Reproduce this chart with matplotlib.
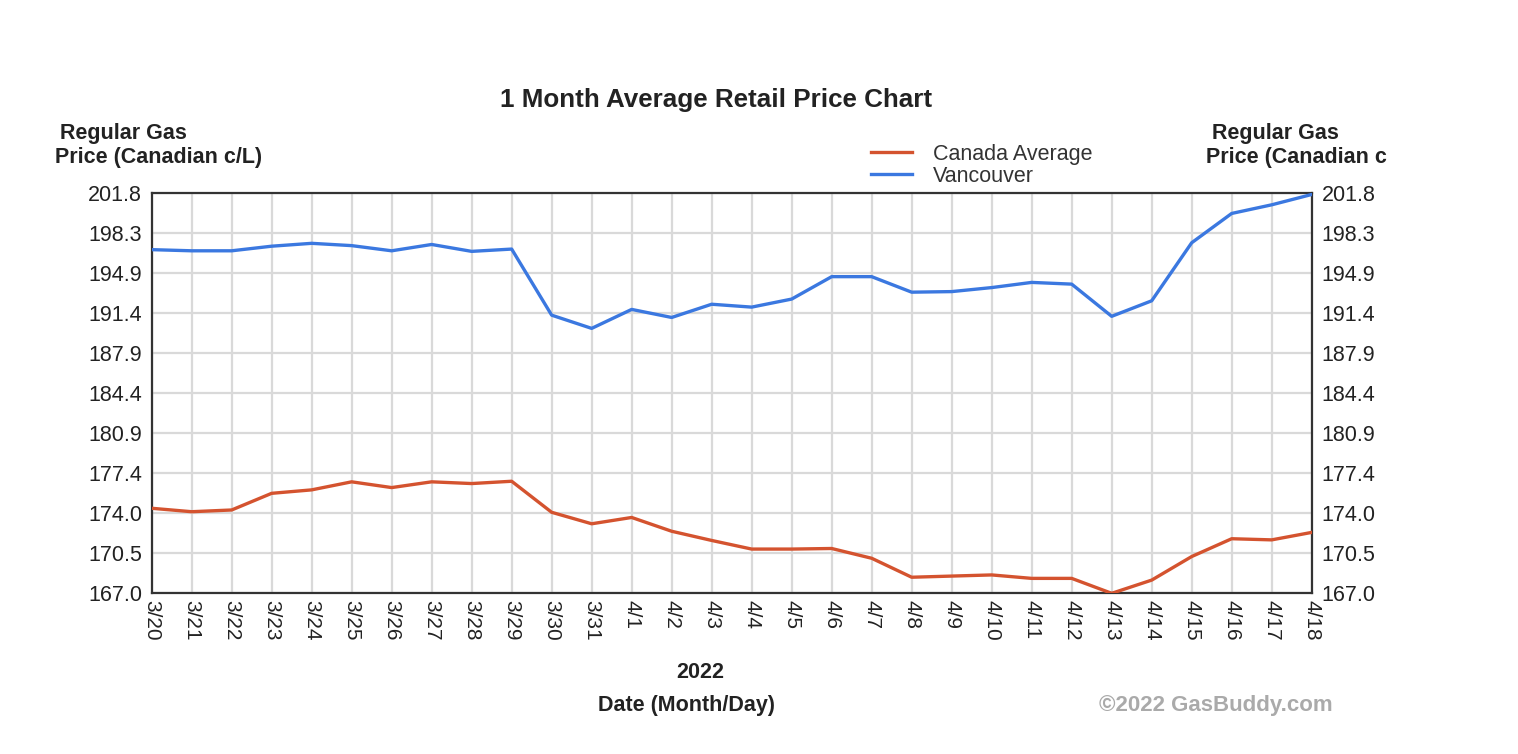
import matplotlib.pyplot as plt
import numpy as np

plt.rcParams['font.family'] = ['Liberation Sans', 'DejaVu Sans']

dates = ['3/20', '3/21', '3/22', '3/23', '3/24', '3/25', '3/26', '3/27', '3/28', '3/29',
         '3/30', '3/31', '4/1', '4/2', '4/3', '4/4', '4/5', '4/6', '4/7', '4/8',
         '4/9', '4/10', '4/11', '4/12', '4/13', '4/14', '4/15', '4/16', '4/17', '4/18']
vancouver = [196.9, 196.8, 196.8, 197.2, 197.45, 197.25, 196.8, 197.35, 196.75, 196.95,
             191.2, 190.05, 191.7, 191.0, 192.15, 191.9, 192.6, 194.55, 194.55, 193.2,
             193.25, 193.6, 194.05, 193.9, 191.1, 192.45, 197.5, 200.05, 200.8, 201.7]
canada = [174.4, 174.1, 174.25, 175.7, 176.0, 176.7, 176.2, 176.7, 176.55, 176.75,
          174.05, 173.05, 173.6, 172.4, 171.6, 170.85, 170.85, 170.9, 170.05, 168.4,
          168.5, 168.6, 168.3, 168.3, 167.0, 168.15, 170.2, 171.75, 171.65, 172.3]
yticks = [167.0, 170.5, 174.0, 177.4, 180.9, 184.4, 187.9, 191.4, 194.9, 198.3, 201.8]

x = np.arange(len(dates))
ymin, ymax = 167.0, 201.8
ygrid = np.linspace(ymin, ymax, 11)
dark = '#222222'

fig = plt.figure(figsize=(15.18, 7.54), dpi=100)
ax = fig.add_axes([0.0999, 0.2131, 0.7642, 0.5305])

ax.plot(x, canada, color='#d4532f', lw=2.4, label='Canada Average', zorder=3)
ax.plot(x, vancouver, color='#3b78e0', lw=2.4, label='Vancouver', zorder=3)

ax.set_xlim(0, len(dates) - 1)
ax.set_ylim(ymin, ymax)
ax.set_xticks(x)
ax.set_xticklabels(dates, rotation=-90, fontsize=15, color=dark)
ax.set_yticks(ygrid)
ax.set_yticklabels(['%.1f' % v for v in yticks], fontsize=15.5, color=dark)
ax.tick_params(length=0, pad=7)
ax.tick_params(axis='x', pad=5)
ax.grid(True, color='#d9d9d9', lw=1.6, zorder=0)
for s in ax.spines.values():
    s.set_color('#333333')
    s.set_linewidth(1.6)

ax2 = ax.twinx()
ax2.set_ylim(ymin, ymax)
ax2.set_yticks(ygrid)
ax2.set_yticklabels(['%.1f' % v for v in yticks], fontsize=15.5, color=dark)
ax2.tick_params(length=0, pad=7)
for s in ax2.spines.values():
    s.set_visible(False)

fig.text(716 / 1518, 1 - 100 / 754, '1 Month Average Retail Price Chart', ha='center', va='center',
         fontsize=18.7, fontweight='bold', color=dark)
fig.text(60 / 1518, 1 - 134 / 754, 'Regular Gas', ha='left', va='center',
         fontsize=15.5, fontweight='bold', color=dark)
fig.text(55 / 1518, 1 - 158 / 754, 'Price (Canadian c/L)', ha='left', va='center',
         fontsize=15.5, fontweight='bold', color=dark)
fig.text(1212 / 1518, 1 - 134 / 754, 'Regular Gas', ha='left', va='center',
         fontsize=15.5, fontweight='bold', color=dark)
fig.text(1206 / 1518, 1 - 158 / 754, 'Price (Canadian c', ha='left', va='center',
         fontsize=15.5, fontweight='bold', color=dark)

fig.legend(loc='upper left', bbox_to_anchor=(860 / 1518, 1 - 133 / 754), frameon=False,
           fontsize=15.5, handlelength=1.9, labelspacing=0.05, handletextpad=1.0,
           borderpad=0, labelcolor='#333333')

fig.text(700 / 1518, 1 - 672 / 754, '2022', ha='center', va='center',
         fontsize=15.5, fontweight='bold', color=dark)
fig.text(686 / 1518, 1 - 705 / 754, 'Date (Month/Day)', ha='center', va='center',
         fontsize=15.5, fontweight='bold', color=dark)
fig.text(1216 / 1518, 1 - 705 / 754, '\u00a92022 GasBuddy.com', ha='center', va='center',
         fontsize=16, fontweight='bold', color='#aaaaaa')

plt.savefig('out.png', dpi=100)
